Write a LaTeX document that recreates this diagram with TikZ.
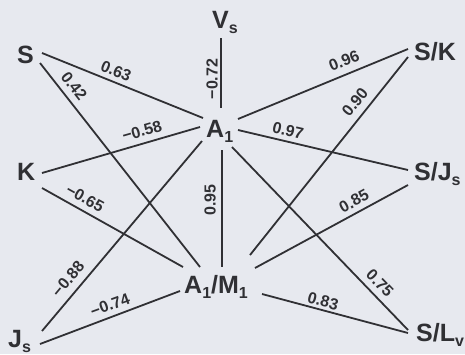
\documentclass[tikz,border=0pt]{standalone}
\usepackage{fontspec}
\setmainfont{Liberation Sans}
\definecolor{ink}{RGB}{48,48,52}
\definecolor{paper}{RGB}{231,233,239}
\newcommand\lsub[1]{\raisebox{-5pt}{\fontsize{16}{16}\selectfont #1}}
\begin{document}
\begin{tikzpicture}[x=1pt,y=-1pt,
  lab/.style={font=\bfseries\fontsize{25}{25}\selectfont, text=ink, inner sep=0pt, anchor=base west},
  coef/.style={font=\bfseries\fontsize{16}{16}\selectfont, text=ink, inner sep=0pt},
  link/.style={draw=ink, line width=1.8pt}]
\fill[paper] (0,0) rectangle (465,354);
\useasboundingbox (0,0) rectangle (465,354);
% variable nodes
\node[lab] (Vs) at (212,28) {V\lsub{s}};
\node[lab] (S) at (17,63) {S};
\node[lab] (K) at (17,180) {K};
\node[lab] (Js) at (8,347) {J\lsub{s}};
\node[lab] (A1) at (206,137) {A\lsub{1}};
\node[lab] (AM) at (184,293) {A\lsub{1}/M\lsub{1}};
\node[lab] (SK) at (414,60) {S/K};
\node[lab] (SJ) at (414,180) {S/J\lsub{s}};
\node[lab] (SL) at (416,341) {S/L\lsub{v}};
% connectors
\draw[link] ([shift={(9,10)}]Vs.base west) -- ([shift={(15,-29)}]A1.base west);
\draw[link] ([shift={(25,-10)}]S.base west) -- ([shift={(-3,-19)}]A1.base west);
\draw[link] ([shift={(23,0)}]S.base west) -- ([shift={(16,-26)}]AM.base west);
\draw[link] ([shift={(25,-7)}]K.base west) -- ([shift={(-6,-10)}]A1.base west);
\draw[link] ([shift={(25,8)}]K.base west) -- ([shift={(-1,-26)}]AM.base west);
\draw[link] ([shift={(34,-16)}]Js.base west) -- ([shift={(-4,4)}]A1.base west);
\draw[link] ([shift={(32,-3)}]Js.base west) -- ([shift={(-4,-2)}]AM.base west);
\draw[link] ([shift={(16,13)}]A1.base west) -- ([shift={(38,-26)}]AM.base west);
\draw[link] ([shift={(32,-18)}]A1.base west) -- ([shift={(-6,-11)}]SK.base west);
\draw[link] ([shift={(32,-7)}]A1.base west) -- ([shift={(-6,-10)}]SJ.base west);
\draw[link] ([shift={(26,10)}]A1.base west) -- ([shift={(-8,-11)}]SL.base west);
\draw[link] ([shift={(66,-38)}]AM.base west) -- ([shift={(-6,-3)}]SK.base west);
\draw[link] ([shift={(71,-25)}]AM.base west) -- ([shift={(-6,5)}]SJ.base west);
\draw[link] ([shift={(78,1)}]AM.base west) -- ([shift={(-8,-8)}]SL.base west);
% coefficients
\node[coef, rotate=90] (c72) at (212,79) {−0.72};
\node[coef, rotate=90] (c95) at (210,200) {0.95};
\node[coef, rotate=-22] (c63) at (116,71) {0.63};
\node[coef, rotate=-52] (c42) at (74,86) {0.42};
\node[coef, rotate=16] (c58) at (142,131) {−0.58};
\node[coef, rotate=-29] (c65) at (85,198) {−0.65};
\node[coef, rotate=50] (c88) at (68,279) {−0.88};
\node[coef, rotate=20] (c74) at (110,305) {−0.74};
\node[coef, rotate=22] (c96) at (344,61) {0.96};
\node[coef, rotate=51] (c90) at (355,102) {0.90};
\node[coef, rotate=-13] (c97) at (288,131) {0.97};
\node[coef, rotate=28.5] (c85) at (354,201) {0.85};
\node[coef, rotate=-46] (c75) at (380,283) {0.75};
\node[coef, rotate=-15] (c83) at (323,301) {0.83};
\end{tikzpicture}
\end{document}
